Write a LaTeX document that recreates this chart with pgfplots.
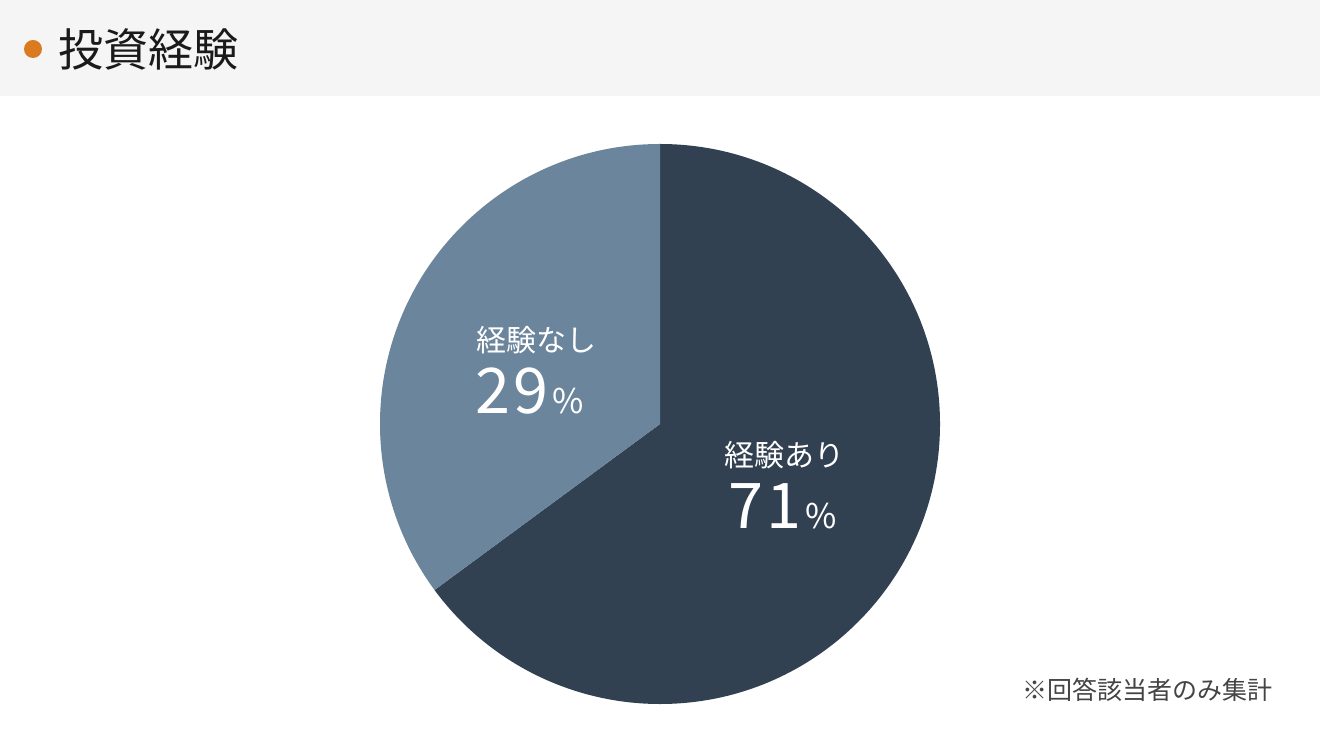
\documentclass[border=0pt]{standalone}
\usepackage{pgfplots}
\pgfplotsset{compat=1.18}
\usepackage{fontspec}
\setmainfont{Noto Sans CJK JP}
\newfontfamily\jp{Noto Sans CJK JP}
\definecolor{darkslice}{HTML}{324152}
\definecolor{lightslice}{HTML}{6B859C}
\definecolor{titlebg}{HTML}{F5F5F5}
\definecolor{dotc}{HTML}{DB7B1F}
\definecolor{titletext}{HTML}{1A1A1A}
\definecolor{notec}{HTML}{444444}
% slice shares as drawn (percent of the full circle)
\def\shareA{64.9}% 経験あり
\def\shareB{35.1}% 経験なし
\begin{document}
\begin{tikzpicture}
\begin{axis}[
  scale only axis, width=1320bp, height=752bp,
  xmin=0, xmax=1320, ymin=0, ymax=752,
  hide axis, clip=false, at={(0,0)}, anchor=south west]
  % background and title bar
  \fill[white] (axis cs:0,0) rectangle (axis cs:1320,752);
  \fill[titlebg] (axis cs:0,656) rectangle (axis cs:1320,752);
  \fill[dotc] (axis cs:33,703) circle[radius=9bp];
  \node[anchor=west, inner sep=0pt, text=titletext] at (axis cs:58,703)
     {\fontsize{45bp}{50bp}\selectfont 投資経験};
  % pie
  \pgfmathsetmacro{\endA}{90-3.6*\shareA}
  \fill[darkslice] (axis cs:660,328) -- (axis cs:660,608)
     arc[start angle=90, end angle=\endA, radius=280bp] -- cycle;
  \fill[lightslice] (axis cs:660,328) -- (axis cs:660,608)
     arc[start angle=90, end angle=\endA+360, radius=280bp] -- cycle;
  % labels
  \node[anchor=west, inner sep=0pt, text=white] at (axis cs:476,412)
     {\fontsize{30bp}{34bp}\selectfont 経験なし};
  \node[anchor=base west, inner sep=0pt, text=white] at (axis cs:475,339)
     {\fontsize{63bp}{63bp}\selectfont 2\hspace{3bp}9\hspace{4bp}\fontsize{34bp}{34bp}\selectfont\%};
  \node[anchor=west, inner sep=0pt, text=white] at (axis cs:724,297)
     {\fontsize{30bp}{34bp}\selectfont 経験あり};
  \node[anchor=base west, inner sep=0pt, text=white] at (axis cs:728,224)
     {\fontsize{63bp}{63bp}\selectfont 7\hspace{3bp}1\hspace{4bp}\fontsize{34bp}{34bp}\selectfont\%};
  % footnote
  \node[anchor=east, inner sep=0pt, text=notec] at (axis cs:1273,62)
     {\fontsize{25bp}{28bp}\selectfont ※回答該当者のみ集計};
\end{axis}
\end{tikzpicture}
\end{document}
